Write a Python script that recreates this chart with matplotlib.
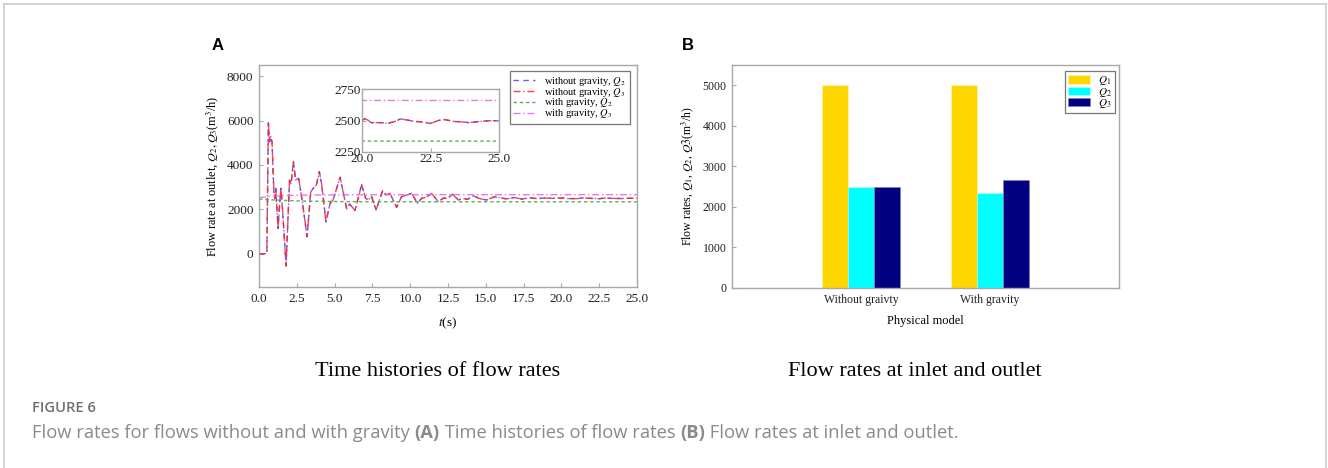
import matplotlib
matplotlib.use("Agg")
import matplotlib.pyplot as plt
from matplotlib.lines import Line2D

plt.rcParams['font.family'] = ['Liberation Serif', 'DejaVu Serif']
plt.rcParams['mathtext.fontset'] = 'stix'

# ---------------- data ----------------
# Panel A: time histories (without gravity; Q2 and Q3 coincide)
t_without = [0, 0.52, 0.62, 0.70, 0.77, 0.86, 0.98, 1.05, 1.11, 1.26, 1.34, 1.45, 1.56, 1.79,
             2.02, 2.12, 2.28, 2.42, 2.62, 2.85, 3.18, 3.42, 3.6, 3.8, 3.99, 4.14, 4.43,
             4.7, 4.9, 5.36, 5.8, 6.0, 6.35, 6.79, 7.05, 7.23, 7.45, 7.74, 8.18, 8.42,
             8.66, 9.1, 9.43, 9.76, 10.1, 10.47, 10.76, 11.05, 11.42, 11.86, 12.23, 12.45,
             12.8, 13.18, 13.5, 13.8, 14.17, 14.6, 15.05, 15.6, 15.9, 16.4, 16.9, 17.4,
             17.9, 18.4, 18.9, 19.4, 19.8, 20.0, 20.1, 20.24, 20.33, 20.7, 20.93, 21.17,
             21.4, 21.65, 21.9, 22.13, 22.5, 22.8, 23.03, 23.33, 23.6, 23.9, 24.2, 24.5,
             24.8, 25.0]
q2_without = [0, 0, 5900, 5045, 5270, 5045, 2870, 2495, 2945, 1140, 2000, 2945, 1970, -555,
              3320, 3150, 4145, 3320, 3400, 2420, 766, 2795, 2950, 3100, 3695, 3150, 1440,
              2270, 2420, 3440, 2020, 2245, 1945, 3110, 2500, 2420, 2570, 1970, 2840, 2640,
              2720, 2090, 2570, 2640, 2720, 2270, 2500, 2540, 2720, 2340, 2520, 2480,
              2675, 2420, 2480, 2450, 2610, 2480, 2420, 2570, 2520, 2470, 2530, 2460,
              2520, 2480, 2510, 2490, 2510, 2496, 2515, 2500, 2483, 2483, 2477, 2490,
              2512, 2504, 2493, 2490, 2477, 2501, 2507, 2493, 2490, 2483, 2490, 2496,
              2499, 2496]
q3_without = list(q2_without)

# with gravity
t_with = [0, 0.5, 1.0, 2.0, 3.0, 4.0, 6.0, 10.0, 25.0]
q2_with = [2460, 2440, 2420, 2390, 2370, 2360, 2345, 2338, 2336]
q3_with = [2520, 2560, 2600, 2625, 2638, 2645, 2655, 2659, 2659]

# Panel B: bar data
models = ['Without graivty', 'With gravity']
Q1 = [5000, 5000]
Q2 = [2500, 2336]
Q3 = [2500, 2659]

# ---------------- layout ----------------
W, H = 1328, 468
fig = plt.figure(figsize=(W / 100, H / 100), dpi=100)


def rect(l, t, r, b):
    return [l / W, 1 - b / H, (r - l) / W, (b - t) / H]


spine_c = '#a8a8a8'


def style_axes(ax, fs):
    for s in ax.spines.values():
        s.set_color(spine_c)
        s.set_linewidth(1.0)
    ax.tick_params(direction='in', length=3, width=0.8, color=spine_c,
                   labelsize=fs, labelcolor='#222222', pad=4)


series_styles = [
    dict(color='#4444ff', ls=(0, (4, 3)), lw=1.0, alpha=0.85),
    dict(color='#ff2222', ls=(0, (5, 2, 1, 2)), lw=1.0, alpha=0.85),
    dict(color='#3aa83a', ls=(0, (2.5, 2)), lw=1.0, alpha=0.85),
    dict(color='#dd66dd', ls=(0, (5, 2, 1, 2)), lw=1.0, alpha=0.85),
]
labels_A = ['without gravity, $Q_2$', 'without gravity, $Q_3$',
            'with gravity, $Q_2$', 'with gravity, $Q_3$']


def draw_series(ax):
    data = [(t_without, q2_without), (t_without, q3_without),
            (t_with, q2_with), (t_with, q3_with)]
    hs = []
    for (tx, qy), st, lab in zip(data, series_styles, labels_A):
        h, = ax.plot(tx, qy, label=lab, **st)
        hs.append(h)
    return hs


# Panel A main
axA = fig.add_axes(rect(259, 65, 637, 287))
style_axes(axA, 9.5)
handles = draw_series(axA)
axA.set_xlim(0, 25)
axA.set_ylim(-1500, 8500)
axA.set_xticks([0, 2.5, 5, 7.5, 10, 12.5, 15, 17.5, 20, 22.5, 25])
axA.set_xticklabels(['0.0', '2.5', '5.0', '7.5', '10.0', '12.5', '15.0', '17.5',
                     '20.0', '22.5', '25.0'])
axA.set_yticks([0, 2000, 4000, 6000, 8000])
axA.set_xlabel('$t$(s)', fontsize=9.5, labelpad=8)
axA.set_ylabel('Flow rate at outlet, $Q_2, Q_3$(m$^3$/h)', fontsize=8.8, labelpad=4)
legA = axA.legend(handles=handles, loc='upper right',
                  bbox_to_anchor=(1 - 7 / 378, 1 - 6 / 222), borderaxespad=0,
                  fontsize=7.5, frameon=True, fancybox=False, handlelength=2.1,
                  handletextpad=0.9, labelspacing=-0.2, borderpad=0.35)
legA.get_frame().set_edgecolor('#555555')
legA.get_frame().set_linewidth(0.9)

# inset
axI = fig.add_axes(rect(362, 89, 499, 152))
style_axes(axI, 9.5)
draw_series(axI)
axI.set_xlim(20, 25)
axI.set_ylim(2250, 2750)
axI.set_xticks([20, 22.5, 25])
axI.set_xticklabels(['20.0', '22.5', '25.0'])
axI.set_yticks([2250, 2500, 2750])
axI.tick_params(axis='x', pad=1)
axI.tick_params(axis='y', pad=1)

# Panel B
axB = fig.add_axes(rect(732, 65, 1119, 288))
style_axes(axB, 8.5)
x = list(range(len(models)))
bw = 0.2
axB.bar([i - bw for i in x], Q1, bw, color='#FFD700', edgecolor='#fff2b0', lw=0.5, label='$Q_1$')
axB.bar(x, Q2, bw, color='#00FFFF', edgecolor='#b0ffff', lw=0.5, label='$Q_2$')
axB.bar([i + bw for i in x], Q3, bw, color='#000080', edgecolor='#8080c0', lw=0.5, label='$Q_3$')
axB.set_xlim(-1.0, 2.0)
axB.set_ylim(0, 5500)
axB.set_xticks(x)
axB.set_xticklabels(models)
axB.set_yticks([0, 1000, 2000, 3000, 4000, 5000])
axB.tick_params(axis='x', length=0)
axB.set_xlabel('Physical model', fontsize=9, labelpad=7)
axB.set_ylabel('Flow rates, $Q_1$, $Q_2$, $Q3$(m$^3$/h)', fontsize=8.5, labelpad=5)
legB = axB.legend(loc='upper right', bbox_to_anchor=(1 - 4 / 387, 1 - 6 / 223),
                  borderaxespad=0, fontsize=8, frameon=True, fancybox=False,
                  handlelength=2.0, handleheight=0.75, handletextpad=0.7,
                  labelspacing=-0.15, borderpad=0.3)
legB.get_frame().set_edgecolor('#555555')
legB.get_frame().set_linewidth(0.9)

# panel letters
fig.text(212 / W, 1 - 46 / H, 'A', fontsize=12, fontweight='bold',
         family=['Liberation Sans', 'DejaVu Sans'], va='center', ha='left')
fig.text(682 / W, 1 - 46 / H, 'B', fontsize=12, fontweight='bold',
         family=['Liberation Sans', 'DejaVu Sans'], va='center', ha='left')

# sub-titles
fig.text(438 / W, 1 - 372 / H, 'Time histories of flow rates', fontsize=16,
         ha='center', va='center')
fig.text(915 / W, 1 - 372 / H, 'Flow rates at inlet and outlet', fontsize=16,
         ha='center', va='center')

# caption
cap_font = ['Open Sans', 'DejaVu Sans']
cap_x = 32
fig.text(cap_x / W, 1 - 408 / H, 'FIGURE 6', fontsize=10.6, fontweight='semibold',
         color='#707070', family=cap_font, va='center', ha='left')

segments = [
    ('Flow rates for flows without and with gravity ', 'normal'),
    ('(A)', 'bold'),
    (' Time histories of flow rates ', 'normal'),
    ('(B)', 'bold'),
    (' Flow rates at inlet and outlet.', 'normal'),
]
renderer = fig.canvas.get_renderer()
xpos = cap_x
for txt, wgt in segments:
    t = fig.text(xpos / W, 1 - 433 / H, txt, fontsize=13.2, color='#8a8a8a',
                 fontweight=wgt, family=cap_font, va='center', ha='left')
    bb = t.get_window_extent(renderer=renderer)
    xpos += bb.width

# outer frame
fc = '#cccccc'
fig.add_artist(Line2D([4 / W, 4 / W], [0, 1 - 4 / H], color=fc, lw=1.2, transform=fig.transFigure))
fig.add_artist(Line2D([4 / W, 1326 / W], [1 - 4 / H, 1 - 4 / H], color=fc, lw=1.2, transform=fig.transFigure))
fig.add_artist(Line2D([1326 / W, 1326 / W], [0, 1 - 4 / H], color=fc, lw=1.2, transform=fig.transFigure))

fig.savefig('out.png', dpi=100)
